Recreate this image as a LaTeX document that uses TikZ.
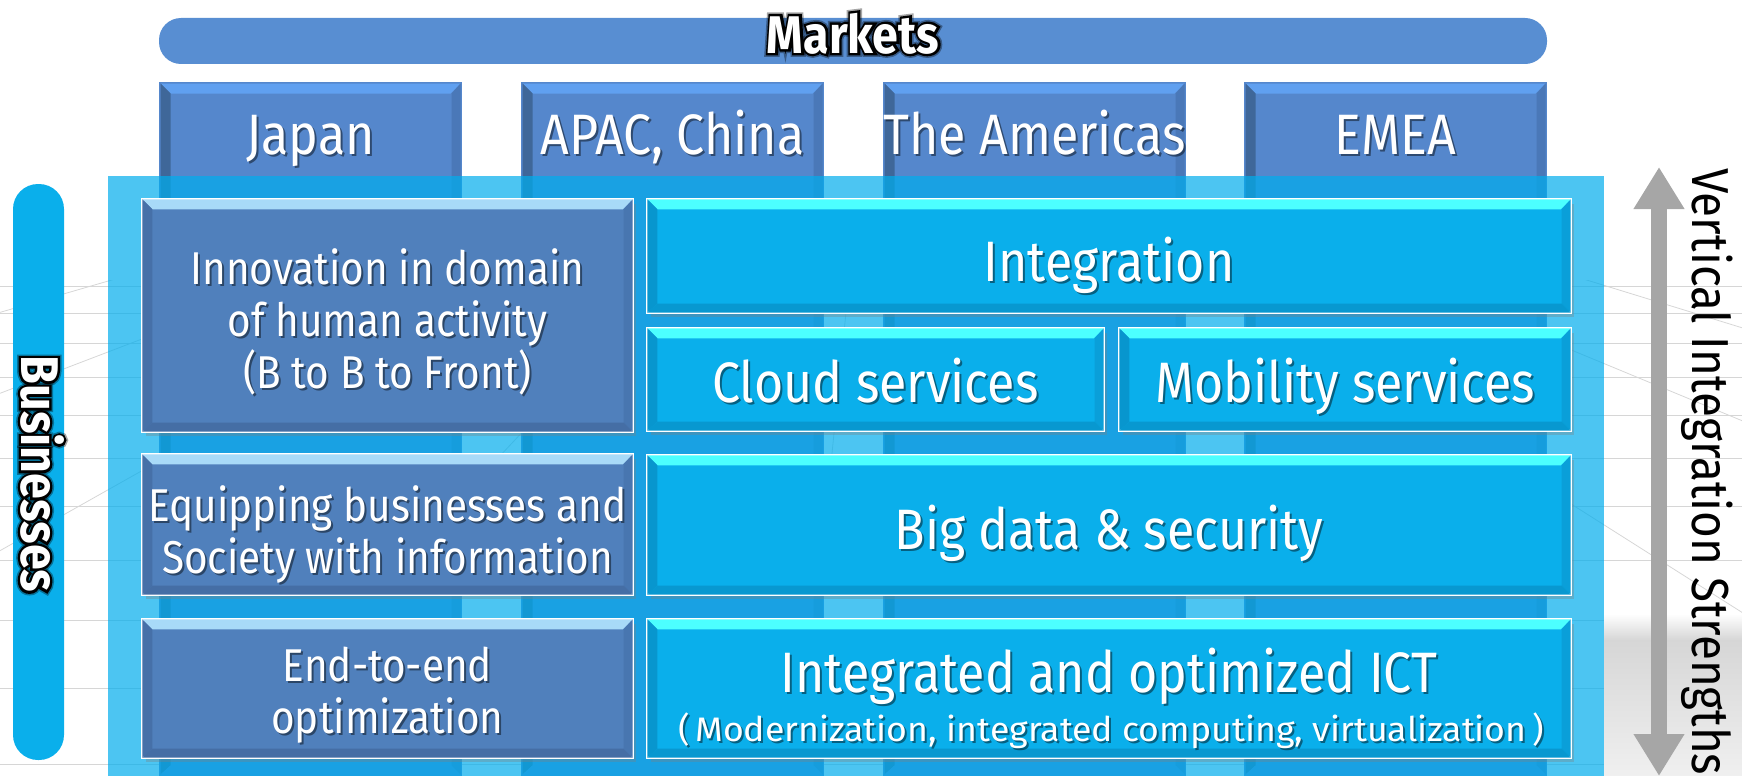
\documentclass[tikz,border=0pt]{standalone}
\usepackage{fontspec}
\setmainfont[FakeStretch=0.88]{Fira Sans}
\newfontfamily\widefont[FakeStretch=1.05]{Fira Sans}
\newfontfamily\halofont[FakeStretch=0.88,FakeBold=9]{Fira Sans}
\newfontfamily\glowfont[FakeStretch=0.88,FakeBold=15]{Fira Sans}
\usetikzlibrary{arrows.meta,shadows}

\definecolor{mktblue}{HTML}{588ED2}
\definecolor{colfill}{HTML}{5587CC}
\definecolor{coltop}{HTML}{60A0F0}
\definecolor{colleft}{HTML}{3F6799}
\definecolor{colright}{HTML}{4A78B8}
\definecolor{panelblue}{HTML}{00ADED}
\definecolor{lfill}{HTML}{5080BC}
\definecolor{ltop}{HTML}{A8DAF8}
\definecolor{lleft}{HTML}{4670A8}
\definecolor{lright}{HTML}{4876B0}
\definecolor{lbottom}{HTML}{456EA5}
\definecolor{rfill}{HTML}{0AAFEB}
\definecolor{rtop}{HTML}{4CFFFF}
\definecolor{rleft}{HTML}{0896CE}
\definecolor{rright}{HTML}{0A9FD9}
\definecolor{rbottom}{HTML}{0898D0}
\definecolor{arrowgray}{HTML}{A6A6A6}

% bevelled edges inside a box: node, top, left, right, bottom
\newcommand{\bevel}[5]{%
  \path (#1.north west) ++(1.7pt,-1.7pt) coordinate (#1-a)
        (#1.north east) ++(-1.7pt,-1.7pt) coordinate (#1-b)
        (#1.south east) ++(-1.7pt,1.7pt) coordinate (#1-c)
        (#1.south west) ++(1.7pt,1.7pt) coordinate (#1-d);
  \fill[#2] (#1-a) -- (#1-b) -- ([shift={(-10pt,-10pt)}]#1-b) -- ([shift={(10pt,-10pt)}]#1-a) -- cycle;
  \fill[#3] (#1-a) -- ([shift={(10pt,-10pt)}]#1-a) -- ([shift={(10pt,9pt)}]#1-d) -- (#1-d) -- cycle;
  \fill[#4] (#1-b) -- ([shift={(-9pt,-10pt)}]#1-b) -- ([shift={(-9pt,9pt)}]#1-c) -- (#1-c) -- cycle;
  \fill[#5] (#1-d) -- ([shift={(10pt,9pt)}]#1-d) -- ([shift={(-9pt,9pt)}]#1-c) -- (#1-c) -- cycle;
}
% white text with a soft drop shadow
\newcommand{\shtext}[4][]{%
  \node[lbl,#1,text=black,opacity=.45,xshift=2pt,yshift=-2pt] (#2-s) at (#3) {#4};
  \node[lbl,#1] (#2) at (#3) {#4};
}
% white bold text with a black halo
\newcommand{\halotext}[4][]{%
  \node[lbl,#1,text=black,opacity=.35] (#2-g) at (#3) {\glowfont\bfseries #4};
  \node[lbl,#1,text=black] (#2-h) at (#3) {\halofont\bfseries #4};
  \node[lbl,#1] (#2) at (#3) {\bfseries #4};
}

\begin{document}
\begin{tikzpicture}[x=1pt, y=-1pt,
  lbl/.style={text=white, align=center, inner sep=0pt},
  gridline/.style={draw=black!16, line width=.8pt},
  colbox/.style={rectangle, fill=colfill, inner sep=0pt,
                 minimum width=303pt, minimum height=694pt},
  lbox/.style={rectangle, fill=lfill, draw=white, line width=3.5pt, inner sep=0pt,
               drop shadow={shadow xshift=3pt, shadow yshift=-4pt, opacity=.35}},
  rbox/.style={lbox, fill=rfill},
  mktfont/.style={font=\fontsize{57}{62}\selectfont},
  leftfont/.style={font=\fontsize{46}{52}\selectfont},
  rightfont/.style={font=\fontsize{57}{62}\selectfont},
  smallfont/.style={font=\widefont\fontsize{34}{40}\selectfont},
  vertfont/.style={font=\fontsize{52}{60}\selectfont},
  titlefont/.style={font=\fontsize{53}{60}\selectfont},
  varrow/.style={draw=arrowgray, line width=16pt,
                 {Triangle[length=42pt,width=48pt]}-{Triangle[length=42pt,width=48pt]}}
]
\useasboundingbox (0,0) rectangle (1742,776);

% --- floor grid ---
\begin{scope}
  \clip (0,280) rectangle (1742,776);
  \foreach \y in {286,313,343,377,415,458,506,560,620,688,764}
    \draw[gridline] (0,\y) -- (1742,\y);
  \foreach \x in {-4000,-3400,...,5800}
    \draw[gridline] (871,60) -- (\x,776);
\end{scope}
\shade[top color=white, bottom color=black!16] (1604,614) rectangle (1742,640);
\shade[top color=black!16, bottom color=black!6] (1604,640) rectangle (1742,776);

% --- market columns ---
\foreach \n/\x/\t in {japan/310.5/Japan, apac/672.5/{APAC, China},
                      amer/1034.5/The Americas, emea/1395.5/EMEA}{
  \node[colbox] (\n) at (\x,429) {};
  \bevel{\n}{coltop}{colleft}{colright}{colfill}
  \shtext[mktfont,anchor=base]{\n-t}{\x,154}{\t}
}

% --- translucent panel ---
\fill[panelblue, opacity=.7] (108,176) rectangle (1604,776);

% --- businesses bar ---
\fill[rfill, rounded corners=25pt] (13,184) rectangle (64,760);
\halotext[titlefont,rotate=-90,anchor=base]{biz}{21,474}{Businesses}

% --- left column ---
\node[lbox, minimum width=490pt, minimum height=232pt] (innov) at (387.5,315.5) {};
\node[lbox, minimum width=490pt, minimum height=140pt] (equip) at (387.5,524.5) {};
\node[lbox, minimum width=490pt, minimum height=138pt] (etoe)  at (387.5,688.5) {};
\foreach \b in {innov,equip,etoe}{
  \bevel{\b}{ltop}{lleft}{lright}{lbottom}
}

% --- right column ---
\node[rbox, minimum width=923pt, minimum height=113pt] (integ) at (1109,256) {};
\node[rbox, minimum width=456pt, minimum height=102pt] (cloud) at (875.5,379.5) {};
\node[rbox, minimum width=451pt, minimum height=102pt] (mobil) at (1345,379.5) {};
\node[rbox, minimum width=923pt, minimum height=139pt] (bigdata) at (1109,525) {};
\node[rbox, minimum width=923pt, minimum height=138pt] (ict) at (1109,688.5) {};
\foreach \b in {integ,cloud,mobil,bigdata,ict}{
  \bevel{\b}{rtop}{rleft}{rright}{rbottom}
}

% --- labels ---
\shtext[leftfont]{innov-t}{387.5,322}{Innovation in domain\\of human activity\\(B to B to Front)}
\shtext[leftfont]{equip-t}{387.5,534}{Equipping businesses and\\Society with information}
\shtext[leftfont]{etoe-t}{387.5,695}{End-to-end\\optimization}
\shtext[rightfont,anchor=base]{integ-t}{1109,281}{Integration}
\shtext[rightfont,anchor=base]{cloud-t}{875.5,402}{Cloud services}
\shtext[rightfont,anchor=base]{mobil-t}{1345,402}{Mobility services}
\shtext[rightfont,anchor=base]{bigdata-t}{1109,549}{Big data \& security}
\shtext[rightfont,anchor=base]{ict-t}{1109,692}{Integrated and optimized ICT}
\shtext[smallfont,anchor=base]{ict-s}{1111,741}{(\,Modernization, integrated computing, virtualization\,)}

% --- markets bar ---
\fill[mktblue, rounded corners=22pt] (159,18) rectangle (1547,64);
\halotext[titlefont,anchor=base]{mkt}{853,53}{Markets}

% --- vertical integration arrow ---
\coordinate (vtop) at (1659,167);
\coordinate (vbot) at (1659,776);
\draw[varrow] (vtop) -- (vbot);
\node[vertfont, rotate=-90, anchor=base, inner sep=0pt] (vlabel) at (1692,472)
  {Vertical Integration Strengths};

\end{tikzpicture}
\end{document}
